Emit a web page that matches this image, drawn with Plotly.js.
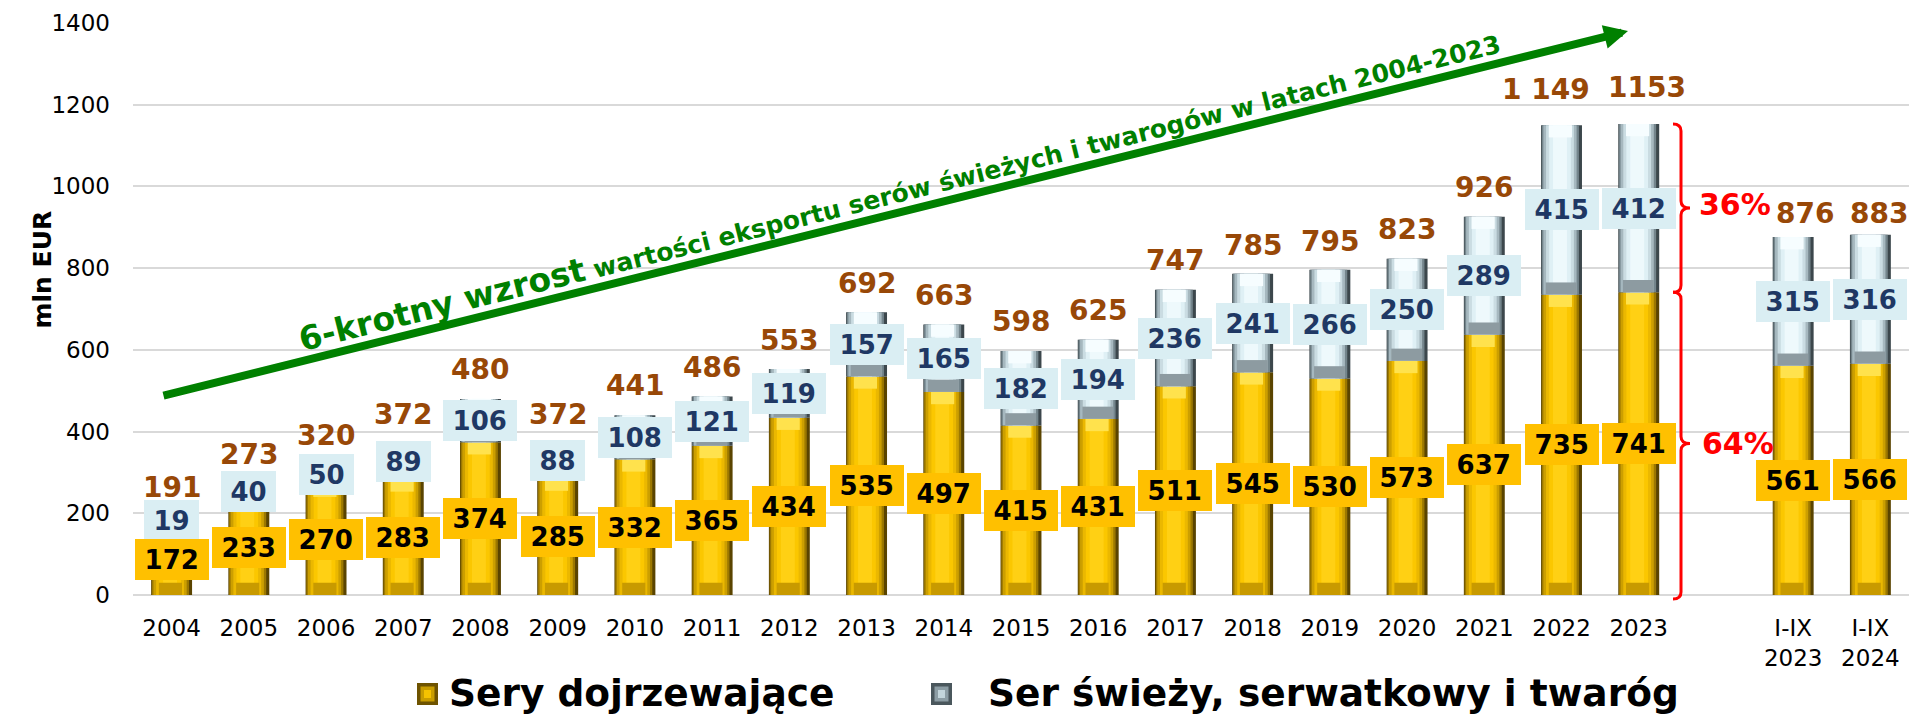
<!DOCTYPE html>
<html><head><meta charset="utf-8">
<script src="https://cdn.plot.ly/plotly-3.0.1.min.js"></script>
<style>html,body{margin:0;padding:0;background:#fff;}#chart{width:1915px;height:714px;}</style>
</head><body><div id="chart"></div>
<script>
// ---------- DATA ----------
const categories = ['2004','2005','2006','2007','2008','2009','2010','2011','2012','2013','2014','2015','2016','2017','2018','2019','2020','2021','2022','2023',' ','I-IX<br>2023','I-IX<br>2024'];
const seryDojrzewajace = [172,233,270,283,374,285,332,365,434,535,497,415,431,511,545,530,573,637,735,741,null,561,566];
const serSwiezy = [19,40,50,89,106,88,108,121,119,157,165,182,194,236,241,266,250,289,415,412,null,315,316];
const totals = [191,273,320,372,480,372,441,486,553,692,663,598,625,747,785,795,823,926,1149,1153,null,876,883];
const totalLabels = ['191','273','320','372','480','372','441','486','553','692','663','598','625','747','785','795','823','926','1 149','1153','','876','883'];
const seriesNames = ['Sery dojrzewające','Ser świeży, serwatkowy i twaróg'];
const shareLabels = ['36%','64%'];
const arrowTextBig = '6-krotny wzrost';
const arrowTextSmall = 'wartości eksportu serów świeżych i twarogów w latach 2004-2023';
const yTitle = 'mln EUR';

// ---------- GEOMETRY HELPERS ----------
const W = 1915, H = 714, ML = 133, MR = 6, MT = 23, MB = 119;
const PW = W - ML - MR, PH = H - MT - MB;
const YMAX = 1400;
const pxX = px => (px - ML) / PW;
const pxY = py => (H - MB - py) / PH;
const FONT = 'DejaVu Sans';

// ---------- BAR LAYERS (pseudo 3D shading) ----------
const goldLayers = [
  {w:0.53, off:-0.265, c:'#5a4400'},
  {w:0.48, off:-0.255, c:'#9c7800'},
  {w:0.43, off:-0.235, c:'#cc9f00'},
  {w:0.36, off:-0.200, c:'#ebb800'},
  {w:0.28, off:-0.160, c:'#fbc700'},
  {w:0.18, off:-0.110, c:'#ffd014'}
];
const silverLayers = [
  {w:0.53, off:-0.265, c:'#3c474c'},
  {w:0.48, off:-0.255, c:'#74858c'},
  {w:0.43, off:-0.235, c:'#a6b8bf'},
  {w:0.36, off:-0.200, c:'#cadce2'},
  {w:0.28, off:-0.160, c:'#dff0f5'},
  {w:0.18, off:-0.110, c:'#eef9fc'}
];
const BEVEL = 30;

const traces = [];
function addLayers(vals, bases, layers) {
  layers.forEach(L => {
    traces.push({
      type:'bar', x:categories, y:vals, base:bases,
      width:L.w, offset:L.off, marker:{color:L.c, line:{width:0}},
      showlegend:false, hoverinfo:'skip'
    });
  });
}
function addBevel(vals, bases, atTop, w, off, color, frac) {
  const h = vals.map(v => v == null ? null : Math.min(BEVEL, v * frac));
  const b = vals.map((v, i) => v == null ? null : (atTop ? bases[i] + v - h[i] : bases[i]));
  traces.push({type:'bar', x:categories, y:h, base:b, width:w, offset:off,
    marker:{color:color, line:{width:0}}, showlegend:false, hoverinfo:'skip'});
}
const zeros = seryDojrzewajace.map(v => v == null ? null : 0);
addLayers(seryDojrzewajace, zeros, goldLayers);
addBevel(seryDojrzewajace, zeros, true, 0.30, -0.165, '#ffe24d', 0.3);
addBevel(seryDojrzewajace, zeros, false, 0.30, -0.165, '#c89a00', 0.3);
addLayers(serSwiezy, seryDojrzewajace, silverLayers);
addBevel(serSwiezy, seryDojrzewajace, false, 0.40, -0.205, '#8d9ba1', 0.35);
addBevel(serSwiezy, seryDojrzewajace, true, 0.30, -0.165, '#f6fdff', 0.35);

// ---------- ANNOTATIONS ----------
const annotations = [];
// small label nudges (style only) to keep neighbouring total labels apart, as in the original
const totalNudge = {'2022':[-16, 7], '2023':[8, 7], 'I-IX<br>2023':[12, -5], 'I-IX<br>2024':[9, -8]};
categories.forEach((c, i) => {
  if (totals[i] == null) return;
  const n = totalNudge[c] || [0, 0];
  annotations.push({x:i, y:totals[i], xref:'x', yref:'y', text:'<b>'+totalLabels[i]+'</b>',
    showarrow:false, yshift:29 + n[1], xshift:n[0], yanchor:'middle',
    font:{family:FONT, size:28, color:'#984807'}});
});
const boxW = s => 18.5 * s.length + 18;
// silver labels
categories.forEach((c, i) => {
  if (serSwiezy[i] == null) return;
  const s = String(serSwiezy[i]);
  annotations.push({x:i, y:seryDojrzewajace[i] + serSwiezy[i] / 2, xref:'x', yref:'y',
    text:'<b>'+s+'</b>', showarrow:false, bgcolor:'#DAEEF3', borderpad:0, borderwidth:0,
    width:boxW(s), height:41, font:{family:FONT, size:26, color:'#1F3864'}});
});
// gold labels
categories.forEach((c, i) => {
  if (seryDojrzewajace[i] == null) return;
  const s = String(seryDojrzewajace[i]);
  annotations.push({x:i, y:seryDojrzewajace[i] / 2, xref:'x', yref:'y',
    text:'<b>'+s+'</b>', showarrow:false, bgcolor:'#FFC000', borderpad:0, borderwidth:0,
    width:boxW(s), height:41, font:{family:FONT, size:26, color:'#000000'}});
});
// y axis title
annotations.push({x:pxX(25), y:pxY(270), xref:'paper', yref:'paper', text:'<b>'+yTitle+'</b>',
  textangle:-90, showarrow:false, font:{family:FONT, size:25, color:'#000'}});
// growth arrow
annotations.push({x:pxX(1628), y:pxY(31), xref:'paper', yref:'paper', text:'',
  showarrow:true, axref:'pixel', ayref:'pixel', ax:162-1628, ay:396-31,
  arrowhead:2, arrowsize:0.6, arrowwidth:8, arrowcolor:'#008000', standoff:0});
annotations.push({x:pxX(899), y:pxY(190), xref:'paper', yref:'paper', textangle:-14,
  text:'<b><span style="font-size:33px">'+arrowTextBig+'</span> '+arrowTextSmall+'</b>',
  showarrow:false, xanchor:'center', yanchor:'middle',
  font:{family:FONT, size:25, color:'#008000'}});
// brackets + shares
const i23 = categories.indexOf('2023');
const yTop = totals[i23] / YMAX, yJ = seryDojrzewajace[i23] / YMAX, yBot = pxY(599);
const yMidU = (yTop + yJ) / 2, yMidL = (yJ + 0) / 2;
const xv = pxX(1681), xl = pxX(1673), xt = pxX(1690), r = 7 / PH;
const bracket = (a, m, b) =>
  `M${xl},${a} Q${xv},${a} ${xv},${a - r} L${xv},${m + r} Q${xv},${m} ${xt},${m} Q${xv},${m} ${xv},${m - r} L${xv},${b + r} Q${xv},${b} ${xl},${b}`;
const shapes = [
  {type:'path', xref:'paper', yref:'paper', path:bracket(yTop, yMidU, yJ), line:{color:'#FF0000', width:3}},
  {type:'path', xref:'paper', yref:'paper', path:bracket(yJ, yMidL, yBot), line:{color:'#FF0000', width:3}}
];
annotations.push({x:pxX(1697), y:yMidU + 4 / PH, xref:'paper', yref:'paper', xanchor:'left', yanchor:'middle',
  text:'<b>'+shareLabels[0]+'</b>', showarrow:false, font:{family:FONT, size:30, color:'#FF0000'}});
annotations.push({x:pxX(1700), y:yMidL, xref:'paper', yref:'paper', xanchor:'left', yanchor:'middle',
  text:'<b>'+shareLabels[1]+'</b>', showarrow:false, font:{family:FONT, size:30, color:'#FF0000'}});

// ---------- LEGEND (drawn) ----------
function legendMarker(x0, colors) {
  colors.forEach((c, k) => {
    const inset = k * 3.5;
    shapes.push({type:'rect', xref:'paper', yref:'paper', layer:'above',
      x0:pxX(x0 + inset), x1:pxX(x0 + 21 - inset), y0:pxY(705 - inset), y1:pxY(683 + inset),
      fillcolor:c, line:{width:0}});
  });
}
legendMarker(417, ['#6e5300', '#c99d00', '#f5c200', '#ffd84a']);
legendMarker(931, ['#4a575c', '#8c9da4', '#c3d5db', '#eef9fc']);
annotations.push({x:pxX(447), y:pxY(693), xref:'paper', yref:'paper', xanchor:'left', yanchor:'middle',
  text:'<b>'+seriesNames[0]+'</b>', showarrow:false, font:{family:FONT, size:37.5, color:'#000'}});
annotations.push({x:pxX(986), y:pxY(693), xref:'paper', yref:'paper', xanchor:'left', yanchor:'middle',
  text:'<b>'+seriesNames[1]+'</b>', showarrow:false, font:{family:FONT, size:37.5, color:'#000'}});

const layout = {
  width:W, height:H, margin:{l:ML, r:MR, t:MT, b:MB, pad:0},
  paper_bgcolor:'#ffffff', plot_bgcolor:'#ffffff',
  barmode:'overlay', showlegend:false,
  font:{family:FONT, color:'#000'},
  xaxis:{type:'category', categoryorder:'array', categoryarray:categories, range:[-0.5, categories.length - 0.5],
    showgrid:false, zeroline:false, showline:false, ticks:'', tickfont:{family:FONT, size:23, color:'#000'},
    ticklabelstandoff:17, fixedrange:true},
  yaxis:{range:[0, YMAX], dtick:200, tick0:0, showgrid:true, gridcolor:'#d9d9d9', gridwidth:2,
    zeroline:true, zerolinecolor:'#d9d9d9', zerolinewidth:2, showline:false, ticks:'',
    tickfont:{family:FONT, size:23, color:'#000'}, ticklabelstandoff:22, fixedrange:true},
  annotations:annotations, shapes:shapes
};
Plotly.newPlot('chart', traces, layout, {displayModeBar:false, staticPlot:true});
</script>
</body></html>
